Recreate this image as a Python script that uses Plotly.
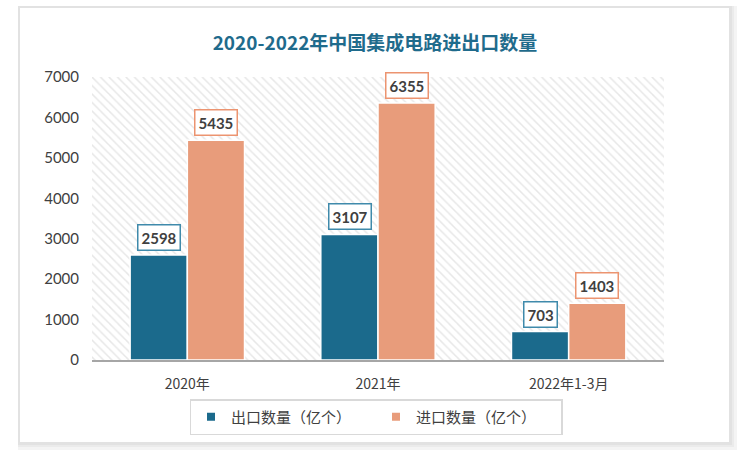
import plotly.graph_objects as go

categories = ["2020年", "2021年", "2022年1-3月"]
export_vals = [2598, 3107, 703]
import_vals = [5435, 6355, 1403]
series_names = ["出口数量（亿个）", "进口数量（亿个）"]
y_ticks = [0, 1000, 2000, 3000, 4000, 5000, 6000, 7000]

blue = "#1b6a8c"
orange = "#e89c7b"
W, H = 750, 461
L, R, T, B = 92, 86, 77, 101
pw, ph = W - L - R, H - T - B


def px_x(v):
    return (v - L) / pw


def px_y(v):
    return (H - B - v) / ph


fig = go.Figure()

# hatched plot background (hidden numeric axis underneath)
fig.add_trace(go.Bar(
    x=[0.5], y=[max(y_ticks)], width=[1], xaxis="x", yaxis="y",
    marker=dict(color="white", line=dict(width=0),
                pattern=dict(shape="\\", fgcolor="#d0d0d0", bgcolor="white",
                             size=6, solidity=0.25)),
    showlegend=False, hoverinfo="skip",
))

for name, vals, col in [(series_names[0], export_vals, blue),
                        (series_names[1], import_vals, orange)]:
    fig.add_trace(go.Bar(
        x=categories, y=vals, name=name, xaxis="x2", yaxis="y",
        marker=dict(color=col, line=dict(color="white", width=1.5)),
        showlegend=False,
    ))
    # small square legend entries
    fig.add_trace(go.Scatter(
        x=[None], y=[None], name=name, xaxis="x2", yaxis="y", mode="markers",
        marker=dict(symbol="square", size=8, color=col),
    ))

# value labels in boxes
for vals, border, shift in [(export_vals, "#3f8aab", -28.5),
                            (import_vals, "#ec9470", 28.5)]:
    for c, v in zip(categories, vals):
        fig.add_annotation(
            x=c, y=v, xref="x2", yref="y", text="<b>%d</b>" % v,
            showarrow=False, yanchor="bottom", xshift=shift, yshift=4,
            font=dict(family="Lato, Open Sans, sans-serif", size=15, color="#404040"),
            bgcolor="white", bordercolor=border, borderwidth=1.5, borderpad=3,
        )

# card with soft shadow
cx0, cx1, cy0, cy1 = 20, 729, 8, 442
for d, c in [(8, "#f4f4f4"), (5, "#ebebeb"), (3, "#e2e2e2")]:
    fig.add_shape(type="rect", xref="paper", yref="paper", layer="below",
                  x0=px_x(cx0 - 2), x1=px_x(cx1 + d), y0=px_y(cy1 + d), y1=px_y(cy0 - 2),
                  line=dict(width=0), fillcolor=c)
fig.add_shape(type="rect", xref="paper", yref="paper", layer="below",
              x0=px_x(cx0), x1=px_x(cx1), y0=px_y(cy1), y1=px_y(cy0),
              line=dict(width=0), fillcolor="white")

fig.update_layout(
    width=W, height=H,
    margin=dict(l=L, r=R, t=T, b=B),
    paper_bgcolor="white", plot_bgcolor="rgba(0,0,0,0)",
    barmode="group", bargap=0.4, bargroupgap=0.0,
    title=dict(text="<b>2020-2022年中国集成电路进出口数量</b>", x=0.5, xanchor="center",
               y=1 - 43 / H, yanchor="middle",
               font=dict(family="Noto Sans CJK SC", size=19, color="#1f6b8c")),
    xaxis=dict(range=[0, 1], visible=False, fixedrange=True),
    xaxis2=dict(overlaying="x", side="bottom", type="category",
                showline=True, linecolor="#a6a6a6", linewidth=1.5,
                ticks="", showgrid=False, ticklabelstandoff=10,
                tickfont=dict(family="Noto Sans CJK SC", size=14, color="#404040")),
    yaxis=dict(range=[0, 7000], tickvals=y_ticks, showgrid=False, zeroline=False,
               ticks="", ticklabelstandoff=12,
               tickfont=dict(family="Lato, Open Sans, sans-serif", size=15, color="#404040")),
    legend=dict(orientation="h", x=px_x(376), xanchor="center", y=px_y(417), yanchor="middle",
                bordercolor="#d9d9d9", borderwidth=1.5, bgcolor="white",
                font=dict(family="Noto Sans CJK SC", size=15, color="#404040"),
                itemwidth=30, entrywidthmode="pixels", entrywidth=140),
    showlegend=True,
)

fig.write_html("out.html", config={"displayModeBar": False},
               post_script="document.body.style.margin='0';")
